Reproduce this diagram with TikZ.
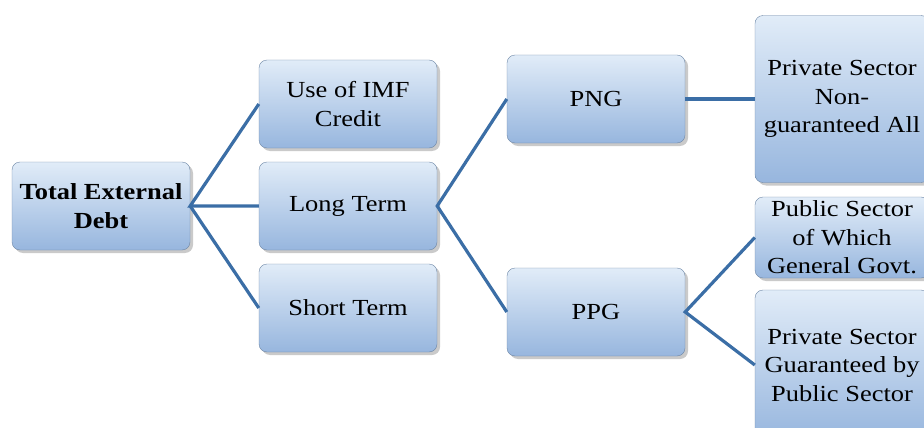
\documentclass[tikz,border=0pt]{standalone}
\usepackage{fontspec}
\setmainfont{Liberation Serif}[FakeStretch=1.15]
\usepackage{tikz}
\usetikzlibrary{shadows}
\definecolor{boxtop}{HTML}{E1ECF8}
\definecolor{boxbot}{HTML}{97B6DE}
\definecolor{boxline}{HTML}{6E87A6}
\definecolor{linkblue}{HTML}{3B6EA6}
\tikzset{
  box/.style={draw=boxline,rounded corners=8pt,align=center,top color=boxtop,bottom color=boxbot,
    font=\fontsize{23}{28.5}\selectfont,minimum width=178pt,minimum height=88pt,inner sep=2pt,
    drop shadow={shadow xshift=3pt,shadow yshift=-3pt,fill=black!35,opacity=0.6}},
  link/.style={draw=linkblue,line width=3.2pt},
}
\begin{document}
\begin{tikzpicture}[x=1pt,y=-1pt]
\useasboundingbox (0,0) rectangle (924,428);
\clip (0,0) rectangle (924,428);
\node[box,font=\fontsize{23}{28.5}\selectfont\bfseries] (ted) at (101,206) {Total External\\Debt};
\node[box] (imf) at (348,104) {Use of IMF\\Credit};
\node[box] (lt) at (348,206) {Long Term};
\node[box] (st) at (348,308) {Short Term};
\node[box] (png) at (596,99) {PNG};
\node[box] (ppg) at (596,312) {PPG};
\node[box,minimum width=174pt,minimum height=167pt] (psn) at (842,99) {Private Sector\\Non-\\guaranteed All};
\node[box,minimum width=174pt,minimum height=81pt] (pub) at (842,237.5) {Public Sector\\of Which\\General Govt.};
\node[box,minimum width=174pt,minimum height=150pt] (psg) at (842,365) {Private Sector\\Guaranteed by\\Public Sector};
\draw[link] (imf.west) -- (ted.east) -- (lt.west);
\draw[link] (ted.east) -- (st.west);
\draw[link] (png.west) -- (lt.east) -- (ppg.west);
\draw[link] (png.east) -- (psn.west);
\draw[link] (pub.west) -- (ppg.east) -- (psg.west);
\end{tikzpicture}
\end{document}
